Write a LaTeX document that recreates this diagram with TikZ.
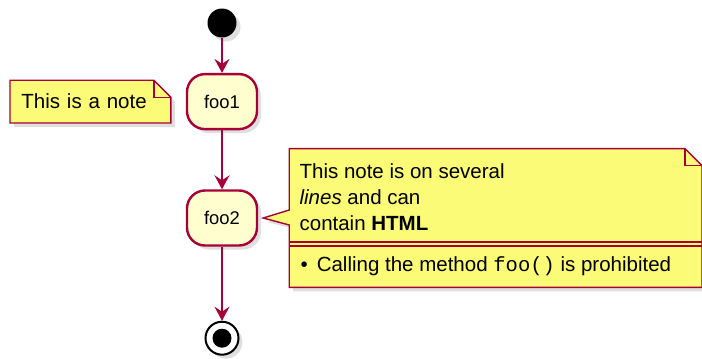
\documentclass[tikz,border=0pt]{standalone}
\usepackage{fontspec}
\setmainfont{Liberation Sans}
\setmonofont{Liberation Mono}
\definecolor{umlred}{HTML}{A80036}
\definecolor{actfill}{HTML}{FEFECE}
\definecolor{notefill}{HTML}{FBFB77}
\usetikzlibrary{positioning,arrows.meta,shadows,backgrounds}

\begin{document}
\begin{tikzpicture}[
  shade/.style={drop shadow={shadow xshift=2pt, shadow yshift=-2pt, opacity=0.25}},
  act/.style={draw=umlred, fill=actfill, line width=1.2pt, rounded corners=9pt, minimum width=35pt, minimum height=27.5pt, font=\fontsize{9.2}{11}\selectfont, shade},
  startdot/.style={circle, fill=black, minimum size=14.5pt, inner sep=0pt, shade},
  stopring/.style={circle, draw=black, fill=white, line width=1pt, minimum size=16.5pt, inner sep=0pt, shade},
  notetext/.style={inner sep=0pt, align=left, font=\fontsize{10.25}{12.9}\selectfont},
  noteline/.style={draw=umlred, fill=notefill, line width=0.7pt, shade},
  sepline/.style={draw=umlred, line width=0.7pt},
  arr/.style={-{Stealth[length=7pt, width=7.5pt, inset=2.5pt]}, line width=1pt, color=umlred}
]
  \useasboundingbox (0,0) rectangle (351pt,-179.5pt);

  \node[startdot] (start) at (111pt,-11.5pt) {};
  \node[act, below=17.5pt of start] (foo1) {foo1};
  \node[act, below=29.5pt of foo1] (foo2) {foo2};
  \node[stopring, below=37pt of foo2] (stop) {};
  \node[circle, fill=black, minimum size=9.5pt, inner sep=0pt] (stopdot) at (stop) {};

  \draw[arr] (start) -- (foo1);
  \draw[arr] (foo1) -- (foo2);
  \draw[arr] (foo2) -- (stop);

  % notes
  \node[notetext, left=7.5pt of foo1, minimum width=80pt, minimum height=21pt, text width=69pt, inner xsep=5.5pt] (note1) {This is a note};
  \node[right=15.5pt of foo2, minimum width=206pt, minimum height=69pt, inner sep=0pt] (note2) {};
  \node[notetext, anchor=north west] (note2top) at ([shift={(5pt,-7.4pt)}]note2.north west) {This note is on several\\ \textit{lines} and can\\ contain \textbf{HTML}};
  \node[notetext, anchor=base west] (note2item) at ([shift={(5.5pt,-61.2pt)}]note2.north west) {\textbullet\hspace{4.5pt}Calling the method \texttt{foo()} is prohibited};

  \begin{scope}[on background layer]
    \draw[noteline] (note1.south west) -- (note1.north west) -- ([xshift=-8.5pt]note1.north east) -- ([yshift=-8.5pt]note1.north east) -- (note1.south east) -- cycle;
    \draw[sepline] ([xshift=-8.5pt]note1.north east) |- ([yshift=-8.5pt]note1.north east);
    \draw[noteline] (note2.south west) -- ([yshift=-3.5pt]note2.west) -- ([xshift=2.5pt]foo2.east) -- ([yshift=4pt]note2.west) -- (note2.north west) -- ([xshift=-8.5pt]note2.north east) -- ([yshift=-8.5pt]note2.north east) -- (note2.south east) -- cycle;
    \draw[sepline] ([xshift=-8.5pt]note2.north east) |- ([yshift=-8.5pt]note2.north east);
    \draw[sepline] ([yshift=-46.75pt]note2.north west) -- ([yshift=-46.75pt]note2.north east);
    \draw[sepline] ([yshift=-48.75pt]note2.north west) -- ([yshift=-48.75pt]note2.north east);
  \end{scope}
\end{tikzpicture}
\end{document}
